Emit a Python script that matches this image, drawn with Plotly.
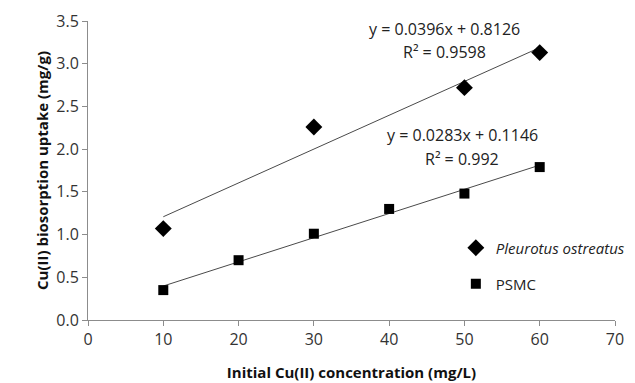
import plotly.graph_objects as go

# Data
po_x = [10, 30, 50, 60]
po_y = [1.07, 2.26, 2.72, 3.13]
psmc_x = [10, 20, 30, 40, 50, 60]
psmc_y = [0.35, 0.70, 1.01, 1.30, 1.48, 1.79]

po_slope, po_int = 0.0396, 0.8126
psmc_slope, psmc_int = 0.0283, 0.1146
po_label = ["y = 0.0396x + 0.8126", "R² = 0.9598"]
psmc_label = ["y = 0.0283x + 0.1146", "R² = 0.992"]

x_ticks = [0, 10, 20, 30, 40, 50, 60, 70]
y_ticks = [0.0, 0.5, 1.0, 1.5, 2.0, 2.5, 3.0, 3.5]

FONT = "Open Sans"
fig = go.Figure()

# trendlines
for xs, m, b in [(po_x, po_slope, po_int), (psmc_x, psmc_slope, psmc_int)]:
    x0, x1 = min(xs), max(xs)
    fig.add_trace(go.Scatter(x=[x0, x1], y=[m * x0 + b, m * x1 + b], mode="lines",
                             line=dict(color="#4a4a4a", width=1), showlegend=False,
                             hoverinfo="skip"))

fig.add_trace(go.Scatter(x=po_x, y=po_y, mode="markers", name="<i>Pleurotus ostreatus</i>",
                         marker=dict(symbol="diamond", size=13, color="black"),
                         legend="legend"))
fig.add_trace(go.Scatter(x=psmc_x, y=psmc_y, mode="markers", name="PSMC",
                         marker=dict(symbol="square", size=10, color="black"),
                         legend="legend2"))

ann = []
for (lx, ly1, ly2), lab in [((47.4, 3.41, 3.14), po_label), ((49.7, 2.17, 1.88), psmc_label)]:
    ann.append(dict(x=lx, y=ly1, text=lab[0], showarrow=False, xref="x", yref="y",
                    font=dict(family=FONT, size=16, color="#222")))
    ann.append(dict(x=lx, y=ly2, text=lab[1], showarrow=False, xref="x", yref="y",
                    font=dict(family=FONT, size=16, color="#222")))

axis_common = dict(showline=True, linecolor="#8c8c8c", linewidth=1, ticks="outside",
                   ticklen=5, tickcolor="#8c8c8c", showgrid=False, zeroline=False,
                   tickfont=dict(family=FONT, size=16, color="#333"))

fig.update_layout(
    width=635, height=383,
    margin=dict(l=88, r=20, t=21, b=63, autoexpand=False),
    paper_bgcolor="white", plot_bgcolor="white",
    annotations=ann,
    xaxis=dict(range=[0, 70], tickvals=x_ticks, ticktext=[str(v) for v in x_ticks],
               automargin=False,
               title=dict(text="<b>Initial Cu(II) concentration (mg/L)</b>", standoff=18,
                          font=dict(family=FONT, size=15, color="#111")),
               **axis_common),
    yaxis=dict(range=[0, 3.5], tickvals=y_ticks, ticktext=[f"{v:.1f}" for v in y_ticks],
               automargin=False,
               title=dict(text="<b>Cu(II) biosorption uptake (mg/g)</b>", standoff=4,
                          font=dict(family=FONT, size=15, color="#111")),
               **axis_common),
    legend=dict(x=0.698, y=0.241, xanchor="left", yanchor="middle", bgcolor="rgba(0,0,0,0)",
                font=dict(family=FONT, size=15, color="#222"), itemwidth=30),
    legend2=dict(x=0.698, y=0.12, xanchor="left", yanchor="middle", bgcolor="rgba(0,0,0,0)",
                 font=dict(family=FONT, size=15, color="#222"), itemwidth=30),
)

fig.write_html("out.html")
